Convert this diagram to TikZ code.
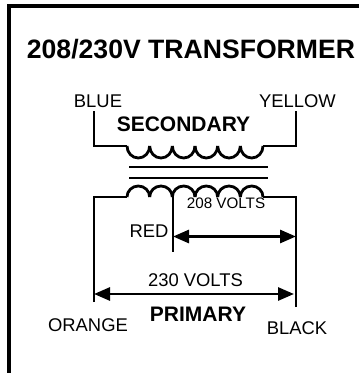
\documentclass[tikz,border=0pt]{standalone}
\usepackage{fontspec}
\setmainfont{Liberation Sans}
\usetikzlibrary{arrows.meta}

\tikzset{
  wire/.style={line width=2.8pt},
  frameline/.style={line width=4pt},
  dimline/.style={line width=2.8pt,{Stealth[length=16pt,width=13pt,inset=0pt]}-{Stealth[length=16pt,width=13pt,inset=0pt]}},
  plain/.style={anchor=base,inner sep=0pt,font=\fontsize{18.4}{20}\selectfont},
  heavy/.style={anchor=base,inner sep=0pt,font=\fontsize{21}{24}\selectfont\bfseries},
}

\begin{document}
\begin{tikzpicture}[x=1pt,y=-1pt]
        \useasboundingbox (0,0) rectangle (364,373);
        % draw frame
        \coordinate (framecorner) at (9,6);
        \coordinate (frameright) at (359,6);
        \coordinate (framebottom) at (9,373);
        \draw[frameline] (frameright) -- (framecorner) -- (framebottom);
        % draw labels
        \node[heavy,font=\fontsize{26.6}{30}\selectfont\bfseries] (title) at (191,58) {208/230V TRANSFORMER};
        \node[plain] (blue) at (98,107) {BLUE};
        \node[plain] (yellow) at (297.5,107) {YELLOW};
        \node[heavy] (secondary) at (183.5,131) {SECONDARY};
        \node[plain,font=\fontsize{15.2}{18}\selectfont] (volts208) at (226,208) {208 VOLTS};
        \node[plain] (red) at (149,237) {RED};
        \node[plain] (volts230) at (195.5,286) {230 VOLTS};
        \node[heavy] (primary) at (198,321) {PRIMARY};
        \node[plain] (orange) at (88,331) {ORANGE};
        \node[plain] (black) at (297,334) {BLACK};
        % draw secondary
        \coordinate (bluewire) at (94,111);
        \coordinate (secleft) at (127,146);
        \coordinate (secright) at (263,146);
        \coordinate (yellowwire) at (296,111);
        \draw[wire] (bluewire) |- (secleft);
        \draw[wire] (yellowwire) |- (secright);
        \foreach \x in {0,...,5}{
          \draw[wire] (127+\x*22.67,146) arc[start angle=180,end angle=360,x radius=11.33pt,y radius=12pt];
        }
        % draw core
        \coordinate (coreaw) at (129,167);
        \coordinate (coreae) at (268,167);
        \coordinate (corebw) at (129,178);
        \coordinate (corebe) at (268,178);
        \draw[wire] (coreaw) -- (coreae);
        \draw[wire] (corebw) -- (corebe);
        % draw primary
        \coordinate (orangewire) at (94,302);
        \coordinate (priLeft) at (127,197);
        \coordinate (priRight) at (263,197);
        \coordinate (blackwire) at (296,307);
        \draw[wire] (orangewire) |- (priLeft);
        \draw[wire] (blackwire) |- (priRight);
        \foreach \x in {0,...,5}{
          \draw[wire] (127+\x*22.67,197) arc[start angle=180,end angle=0,x radius=11.33pt,y radius=11pt];
        }
        % draw tap and voltage arrows
        \coordinate (taptop) at (173,196);
        \coordinate (tapbottom) at (173,252);
        \draw[wire] (taptop) -- (tapbottom);
        \coordinate (arrow208l) at (173,236.5);
        \coordinate (arrow208r) at (296,236.5);
        \coordinate (arrow230l) at (94,294);
        \coordinate (arrow230r) at (294,294);
        \draw[dimline] (arrow208l) -- (arrow208r);
        \draw[dimline] (arrow230l) -- (arrow230r);
      \end{tikzpicture}
\end{document}
